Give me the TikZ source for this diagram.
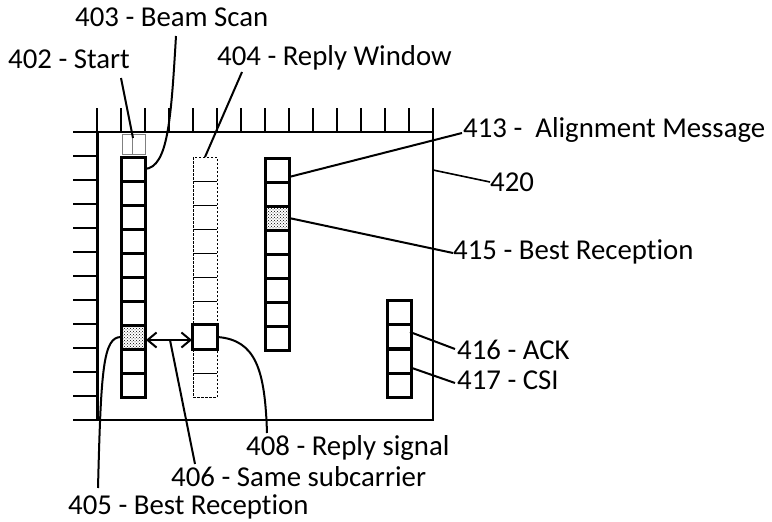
\documentclass[tikz,border=0pt]{standalone}
\usepackage{fontspec}
\setmainfont{Carlito}[Ligatures=NoCommon]
\usetikzlibrary{patterns,arrows.meta}

\begin{document}
\begin{tikzpicture}[x=1pt,y=-1pt,
	cell/.style={draw,line width=3pt,minimum width=24pt,minimum height=24pt,inner sep=0pt,outer sep=0pt},
	slot/.style={draw,dash pattern=on 2.5pt off 1.5pt,line width=1pt,minimum width=24pt,minimum height=24pt,inner sep=0pt,outer sep=0pt},
	lbl/.style={anchor=base west,inner sep=0pt,font=\fontsize{28.8}{32}\selectfont},
	lead/.style={line width=2pt}]
  \useasboundingbox (0,0) rectangle (772,522);

  % frame with ticks
  \draw [line width=2pt] (73,132) -- (433,132);
  \draw [line width=3pt] (97,132) -- (97,421);
  \draw [line width=1.6pt] (73,420) -- (434,420);
  \draw [line width=1.4pt] (433,132) -- (433,420);
  \foreach \x in {0,...,14}
	{
	\draw [line width=1.5pt] (97+24*\x,108) -- (97+24*\x,132);
	}
  \foreach \y in {0,...,10}
	{
	\draw [line width=1.5pt] (73,156+24*\y) -- (97,156+24*\y);
	}

  % start marker
  \node[draw=gray,line width=1pt,minimum width=23pt,minimum height=20pt,inner sep=0pt] (start) at (133.5,144) {};
  \draw [gray,line width=1pt] (132,134) -- (132,154);

  % beam scan and reply window
  \foreach \k in {0,...,9}
	{
	\ifnum\k=7
		\node[cell,pattern=crosshatch dots] (scan\k) at (133,169+24*\k) {};
	\else
		\node[cell] (scan\k) at (133,169+24*\k) {};
	\fi
	\node[slot] (slot\k) at (205,169+24*\k) {};
	}
  \node[cell,line width=3.5pt,fill=white,minimum width=25pt,minimum height=25pt] (reply) at (205,337) {};

  % alignment message
  \foreach \k in {0,...,7}
	{
	\ifnum\k=2
		\node[cell,pattern=crosshatch dots] (align\k) at (277,170+24*\k) {};
	\else
		\node[cell] (align\k) at (277,170+24*\k) {};
	\fi
	}

  % ack and csi
  \foreach \k in {0,1}
	{
	\node[cell] (ack\k) at (399,312+24*\k) {};
	\node[cell] (csi\k) at (399,361+24*\k) {};
	}

  % labels
  \node[lbl] (lbl403) at (75,27) {403 - Beam Scan};
  \node[lbl] (lbl402) at (8,68) {402 - Start};
  \node[lbl] (lbl404) at (217,65) {404 - Reply Window};
  \node[lbl] (lbl413) at (463,137) {413 - \ Alignment Message};
  \node[lbl] (lbl420) at (490,191) {420};
  \node[lbl] (lbl415) at (453,259) {415 - Best Reception};
  \node[lbl] (lbl416) at (457,359) {416 - ACK};
  \node[lbl] (lbl417) at (457,389) {417 - CSI};
  \node[lbl] (lbl408) at (246,455) {408 - Reply signal};
  \node[lbl] (lbl406) at (171,486) {406 - Same subcarrier};
  \node[lbl] (lbl405) at (68,514) {405 - Best Reception};

  % leader ends
  \coordinate (end402) at (121,78);
  \coordinate (site402) at (133,138);
  \coordinate (end403) at (176,36);
  \coordinate (end404) at (242,72);
  \coordinate (end413) at (462,133);
  \coordinate (site413) at (289,177);
  \coordinate (end420) at (490,182);
  \coordinate (site420) at (433,170);
  \coordinate (end415) at (453,253);
  \coordinate (end416) at (455,349);
  \coordinate (site416) at (410,332);
  \coordinate (end417) at (455,383);
  \coordinate (site417) at (412,368);
  \coordinate (end408) at (267,433);
  \coordinate (end406) at (195,464);
  \coordinate (site406) at (170,340);
  \coordinate (end405) at (98,488);

  % leaders
  \draw [lead] (end402) -- (site402);
  \draw [lead] (scan0.east) .. controls (168,167) and (171,120) .. (end403);
  \draw [lead] (end404) -- (slot0.north);
  \draw [lead] (site413) -- (end413);
  \draw [lead,line width=1.6pt] (site420) -- (end420);
  \draw [lead] (align2.east) -- (end415);
  \draw [lead] (site416) -- (end416);
  \draw [lead] (site417) -- (end417);
  \draw [lead] (reply.east) .. controls (256,340) and (265,370) .. (end408);
  \draw [lead] (site406) -- (end406);
  \draw [lead] (scan7.west) .. controls (103,337) and (101,370) .. (end405);

  % same subcarrier arrow
  \draw [lead,{Straight Barb[length=9pt,width=15pt,line width=2pt]}-{Straight Barb[length=9pt,width=15pt,line width=2pt]}] (146,340) -- (192,340);
\end{tikzpicture}
\end{document}
